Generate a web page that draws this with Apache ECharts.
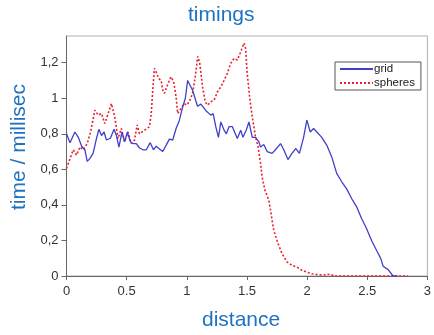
<!DOCTYPE html>
<html>
<head>
<meta charset="utf-8">
<script src="https://cdn.jsdelivr.net/npm/echarts@6/dist/echarts.min.js"></script>
<style>
  html, body { margin: 0; padding: 0; background: #fff; }
  #chart { width: 434px; height: 335px; }
</style>
</head>
<body>
<div id="chart"></div>
<script>
// timings: grid vs spheres
const seriesNames = ["grid", "spheres"];

const gridX = [0,0.029,0.07,0.098,0.126,0.153,0.172,0.194,0.221,0.25,0.269,0.291,0.312,0.332,0.365,0.395,0.415,0.436,0.461,0.483,0.506,0.531,0.552,0.58,0.607,0.635,0.663,0.696,0.723,0.745,0.773,0.8,0.828,0.855,0.883,0.911,0.938,0.965,0.988,1.007,1.048,1.089,1.117,1.159,1.2,1.219,1.241,1.263,1.283,1.31,1.329,1.351,1.379,1.42,1.448,1.467,1.494,1.517,1.544,1.572,1.599,1.613,1.64,1.668,1.709,1.737,1.779,1.806,1.841,1.874,1.907,1.936,1.971,1.998,2.026,2.054,2.081,2.122,2.164,2.205,2.246,2.288,2.329,2.37,2.412,2.453,2.494,2.536,2.577,2.613,2.632,2.674,2.715,2.75];
const gridY = [0.8,0.75,0.81,0.78,0.73,0.71,0.645,0.66,0.69,0.775,0.825,0.79,0.81,0.765,0.775,0.825,0.79,0.725,0.81,0.755,0.81,0.755,0.745,0.745,0.72,0.71,0.71,0.75,0.71,0.73,0.715,0.7,0.735,0.77,0.765,0.83,0.875,0.95,1.0,1.1,1.045,0.955,0.967,0.93,0.905,0.914,0.84,0.78,0.867,0.82,0.8,0.84,0.84,0.773,0.82,0.78,0.82,0.867,0.78,0.78,0.755,0.726,0.74,0.7,0.69,0.71,0.745,0.71,0.655,0.69,0.717,0.69,0.78,0.877,0.81,0.83,0.81,0.78,0.735,0.67,0.577,0.53,0.49,0.436,0.389,0.323,0.267,0.2,0.145,0.098,0.055,0.036,0,0];

const sphX = [0,0.029,0.056,0.084,0.112,0.139,0.172,0.2,0.236,0.263,0.291,0.318,0.337,0.374,0.401,0.428,0.456,0.483,0.511,0.539,0.566,0.587,0.607,0.649,0.69,0.704,0.717,0.731,0.745,0.767,0.787,0.8,0.814,0.828,0.85,0.869,0.891,0.911,0.924,0.952,0.979,0.998,1.021,1.048,1.07,1.091,1.107,1.131,1.153,1.172,1.2,1.227,1.255,1.283,1.31,1.337,1.365,1.393,1.42,1.448,1.475,1.489,1.502,1.522,1.544,1.558,1.572,1.593,1.613,1.626,1.649,1.682,1.696,1.709,1.723,1.75,1.764,1.792,1.833,1.874,1.916,1.957,1.998,2.04,2.081,2.136,2.19,2.227,2.84];
const sphY = [0.605,0.66,0.71,0.68,0.726,0.71,0.745,0.81,0.933,0.905,0.914,0.858,0.895,0.97,0.895,0.773,0.83,0.755,0.81,0.745,0.765,0.85,0.8,0.82,0.84,0.91,1.045,1.168,1.149,1.11,1.1,1.045,1.027,1.055,1.092,1.12,1.092,1.008,0.914,0.943,0.97,0.961,0.98,1.027,1.12,1.235,1.2,1.064,0.98,0.961,0.98,0.99,1.036,1.064,1.1,1.14,1.196,1.224,1.215,1.26,1.31,1.28,1.14,1.008,0.895,0.84,0.78,0.726,0.633,0.557,0.483,0.426,0.37,0.314,0.257,0.2,0.173,0.126,0.079,0.06,0.05,0.032,0.022,0.013,0.008,0.006,0.01,0,0];

const xTicks = [0, 0.5, 1, 1.5, 2, 2.5, 3];
const yTicks = [0, 0.2, 0.4, 0.6, 0.8, 1, 1.2];

const pair = (xs, ys) => xs.map((x, i) => [x, ys[i]]);

const blueText = "#1f72c1";
const font = "Liberation Sans, Arial, sans-serif";

const chart = echarts.init(document.getElementById("chart"));
chart.setOption({
  animation: false,
  backgroundColor: "#fff",
  textStyle: { fontFamily: font },
  grid: {
    left: 66.5, right: 4, top: 36, bottom: 59,
    show: true, borderColor: "#b0b0b0", borderWidth: 1, backgroundColor: "#fff"
  },
  graphic: [
    { type: "text", left: 188, top: 5, style: { text: "timings", fill: blueText, font: "21px " + font } },
    { type: "text", left: 202, top: 310, style: { text: "distance", fill: blueText, font: "21px " + font } }
  ],
  legend: {
    data: seriesNames,
    orient: "vertical",
    left: 335, top: 62,
    padding: [1, 6, 1, 4],
    itemGap: 2,
    itemWidth: 33, itemHeight: 11,
    backgroundColor: "#fff",
    borderColor: "#555", borderWidth: 1,
    itemStyle: { opacity: 0 },
    textStyle: { fontSize: 11.5, color: "#222", fontFamily: font, padding: [0, 0, 0, -4] }
  },
  xAxis: {
    type: "value",
    min: 0, max: 3, interval: 0.5,
    axisLine: { lineStyle: { color: "#666" } },
    axisTick: { show: true, length: 4, lineStyle: { color: "#666" } },
    axisLabel: { color: "#333", fontSize: 13, margin: 9, formatter: v => String(+v.toFixed(1)) },
    splitLine: { show: false }
  },
  yAxis: {
    type: "value",
    min: 0, max: 1.35, interval: 0.2,
    name: "time / millisec",
    nameLocation: "middle",
    nameGap: 29,
    nameTextStyle: { color: blueText, fontSize: 21, fontFamily: font, padding: [0, 0, 0, 18] },
    axisLine: { show: true, lineStyle: { color: "#666" } },
    axisTick: { show: true, length: 5, lineStyle: { color: "#666" } },
    axisLabel: {
      color: "#333", fontSize: 13, margin: 8, showMaxLabel: false,
      formatter: v => yTicks.some(t => Math.abs(t - v) < 1e-6) ? String(+v.toFixed(1)).replace(".", ",") : ""
    },
    splitLine: { show: false }
  },
  series: [
    {
      name: seriesNames[0], type: "line", showSymbol: false, symbol: "none",
      data: pair(gridX, gridY),
      lineStyle: { color: "#4040cc", width: 1.3 },
      itemStyle: { color: "#4040cc" },
      z: 3
    },
    {
      name: seriesNames[1], type: "line", showSymbol: false, symbol: "none",
      data: pair(sphX, sphY),
      lineStyle: { color: "#e8202c", width: 1.6, type: [2, 2] },
      itemStyle: { color: "#e8202c" },
      z: 2
    }
  ]
});
</script>
</body>
</html>
